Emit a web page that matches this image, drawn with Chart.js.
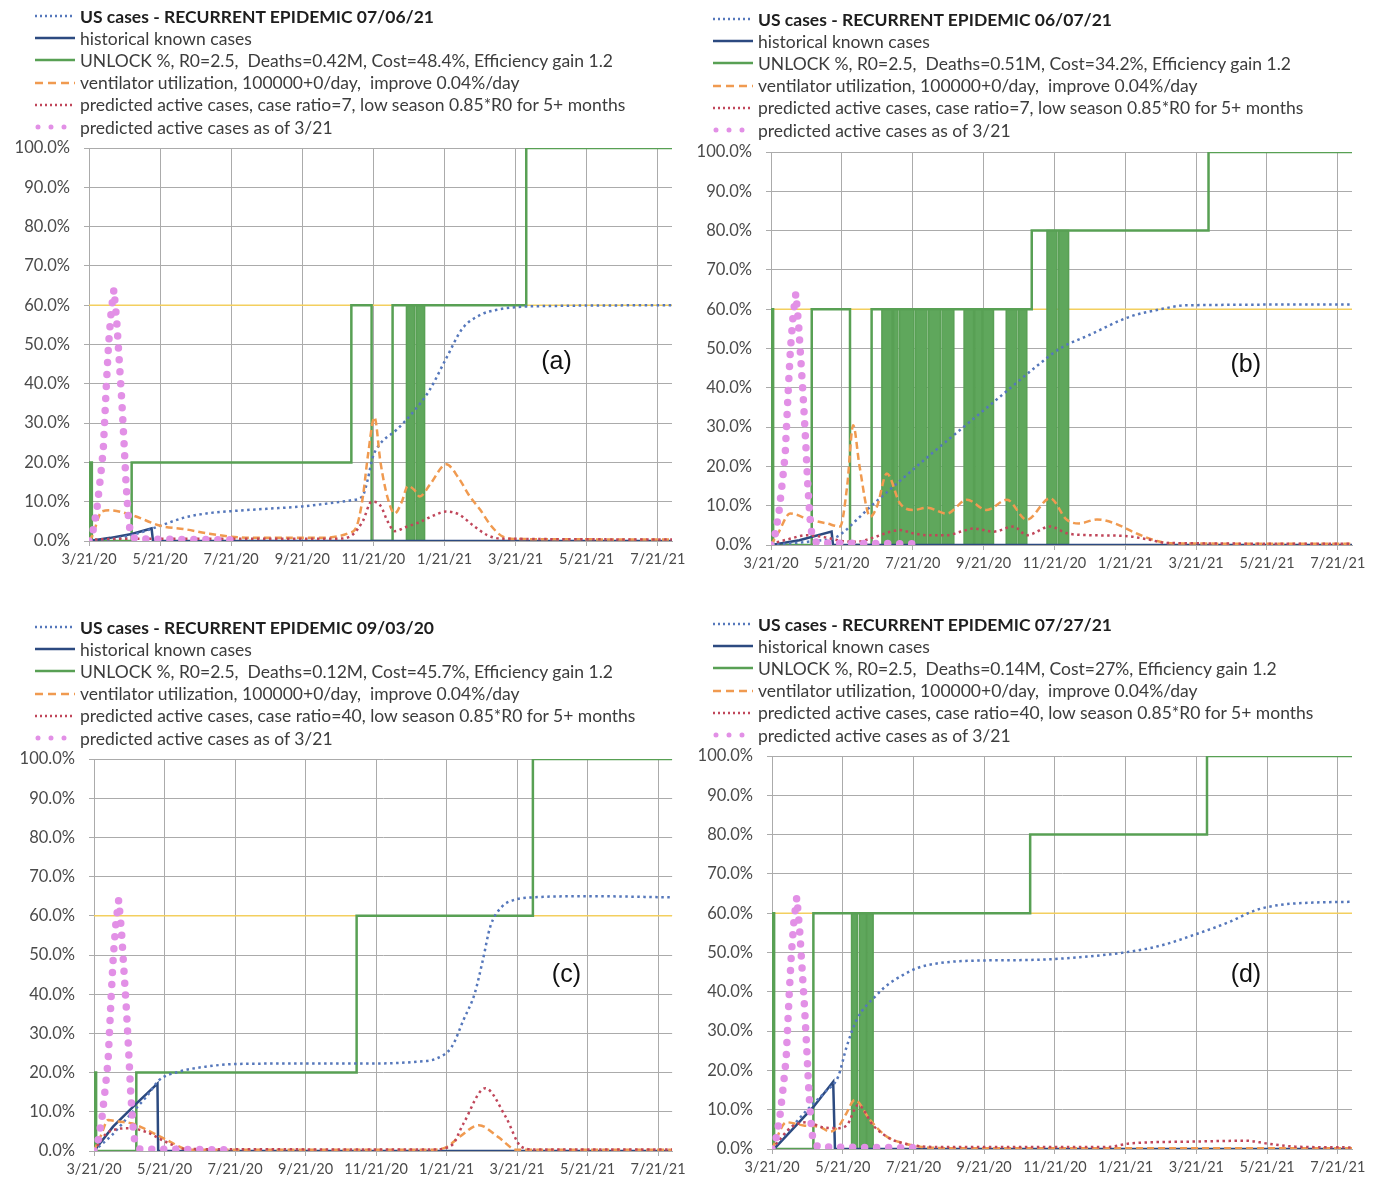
<!DOCTYPE html>
<html>
<head>
<meta charset="utf-8">
<title>US cases - recurrent epidemic</title>
<script src="https://cdn.jsdelivr.net/npm/chart.js@4.4.1/dist/chart.umd.min.js"></script>
<style>
  body { margin: 0; background: #fff; }
  #page { position: relative; width: 1382px; height: 1182px; overflow: hidden; }
  .panel { position: absolute; width: 691px; height: 591px; }
  .panel canvas { position: absolute; left: 0; top: 0; }
  .legend { position: absolute; font-family: Lato, "Noto Sans", sans-serif; font-size: 17.5px; color: #3c3c3c; }
  .legend .row { height: 22.2px; display: flex; align-items: center; white-space: pre; }
  .legend svg { flex: none; margin-right: 4px; }
  .legend .title { font-weight: bold; color: #1e1e1e; }
</style>
</head>
<body>
<div id="page">
  <div class="panel" style="left:0;top:0">
    <canvas id="chartA" width="691" height="591"></canvas>
    <div class="legend" id="legendA" style="left:34px;top:5px"></div>
  </div>
  <div class="panel" style="left:691px;top:0">
    <canvas id="chartB" width="691" height="591"></canvas>
    <div class="legend" id="legendB" style="left:21px;top:8px"></div>
  </div>
  <div class="panel" style="left:0;top:591px">
    <canvas id="chartC" width="691" height="591"></canvas>
    <div class="legend" id="legendC" style="left:34px;top:25px"></div>
  </div>
  <div class="panel" style="left:691px;top:591px">
    <canvas id="chartD" width="691" height="591"></canvas>
    <div class="legend" id="legendD" style="left:21px;top:22px"></div>
  </div>
</div>
<script>
// x values are months since 3/21/20
var xTickMonths = [0, 2, 4, 6, 8, 10, 12, 14, 16];
var xTickLabels = ['3/21/20', '5/21/20', '7/21/20', '9/21/20', '11/21/20', '1/21/21', '3/21/21', '5/21/21', '7/21/21'];
var lastMonth = 16.4;
var refLevel = 60;

var panelTitles = [
    'US cases - RECURRENT EPIDEMIC 07/06/21',
    'US cases - RECURRENT EPIDEMIC 06/07/21',
    'US cases - RECURRENT EPIDEMIC 09/03/20',
    'US cases - RECURRENT EPIDEMIC 07/27/21'
];
var unlockLabels = [
    'UNLOCK %, R0=2.5,  Deaths=0.42M, Cost=48.4%, Efficiency gain 1.2',
    'UNLOCK %, R0=2.5,  Deaths=0.51M, Cost=34.2%, Efficiency gain 1.2',
    'UNLOCK %, R0=2.5,  Deaths=0.12M, Cost=45.7%, Efficiency gain 1.2',
    'UNLOCK %, R0=2.5,  Deaths=0.14M, Cost=27%, Efficiency gain 1.2'
];
var activeLabels = [
    'predicted active cases, case ratio=7, low season 0.85*R0 for 5+ months',
    'predicted active cases, case ratio=7, low season 0.85*R0 for 5+ months',
    'predicted active cases, case ratio=40, low season 0.85*R0 for 5+ months',
    'predicted active cases, case ratio=40, low season 0.85*R0 for 5+ months'
];
var historicalLabel = 'historical known cases';
var ventilatorLabel = 'ventilator utilization, 100000+0/day,  improve 0.04%/day';
var asOf321Label = 'predicted active cases as of 3/21';

// same early forecast in every panel
var asOf321 = [[0, 0], [0.1, 2], [0.22, 8], [0.32, 16], [0.4, 23], [0.49, 40], [0.55, 50], [0.62, 58], [0.7, 64],
    [0.78, 56], [0.85, 46], [0.92, 36], [0.98, 26], [1.04, 15], [1.1, 7], [1.16, 2], [1.3, 0.5], [4, 0.3]];

// (a) 07/06/21
var usCasesA = [[0, 0], [0.6, 0.4], [1.2, 1.5], [1.6, 2.6], [2.04, 4], [2.7, 6], [3.3, 7], [4, 7.6], [5, 8.2], [6, 8.8],
    [6.77, 9.6], [7.4, 10.4], [7.7, 11.5], [7.85, 16], [7.97, 21], [8.17, 24.5], [8.64, 28.2], [9.1, 32.6], [9.58, 38.4],
    [10.05, 46.5], [10.5, 54], [11, 57.5], [11.45, 58.8], [12, 59.5], [13, 59.8], [16.4, 60]];
var historicalA = [[0, 0], [0.6, 0.8], [1.2, 1.8], [1.76, 3.2], [1.8, 0], [16.4, 0]];
var unlockA = [[0, 0], [0.03, 20], [0.08, 0], [1.2, 20], [7.38, 60], [7.95, 0], [8.54, 60], [12.3, 100], [16.4, 100]];
var unlockBandsA = [[8.93, 9.16, 60], [9.21, 9.44, 60]];
var ventilatorA = [[0, 0], [0.1, 1.5], [0.36, 7.5], [0.6, 7.8], [1.2, 6.6], [2.04, 3.8], [2.7, 3], [3.3, 2], [4, 1.1],
    [5, 0.8], [6.5, 0.8], [7, 1.2], [7.3, 2], [7.52, 3.5], [7.7, 11], [7.85, 22], [8.03, 31.5], [8.2, 20], [8.4, 11],
    [8.6, 7], [8.8, 10], [8.97, 14], [9.15, 13], [9.3, 11.3], [9.6, 14.5], [10.05, 19.5], [10.4, 16], [10.7, 11.5],
    [11, 8], [11.3, 4], [11.64, 1.1], [12, 0.5], [16.4, 0.4]];
var activeA = [[0, 0.3], [0.5, 0.5], [2, 0.6], [7, 0.6], [7.4, 1.5], [7.7, 5], [7.95, 10], [8.2, 9], [8.4, 5], [8.6, 2.5],
    [8.9, 3.5], [9.3, 4.8], [9.7, 6.5], [10.05, 7.5], [10.4, 6.8], [10.8, 4], [11.2, 1.5], [11.6, 0.6], [16.4, 0.4]];

// (b) 06/07/21
var usCasesB = [[0, 0], [1.2, 1], [1.86, 2.1], [2.42, 6.4], [2.8, 9.7], [3.6, 16], [4.5, 23], [5.5, 30.5], [6.5, 38],
    [7.5, 45.5], [8.16, 50], [9, 53.5], [10.1, 58], [11, 60], [11.75, 61], [16.4, 61.2]];
var historicalB = [[0, 0], [0.8, 1.2], [1.71, 3.4], [1.75, 0], [16.4, 0]];
var unlockB = [[0, 0], [0.02, 60], [0.06, 0], [1.15, 60], [2.23, 0], [2.84, 60], [7.36, 80], [12.35, 100], [16.4, 100]];
var unlockBandsB = [[3.13, 3.42, 60], [3.46, 3.58, 60], [3.63, 4.03, 60], [4.08, 4.4, 60], [4.45, 4.78, 60],
    [4.83, 5.16, 60], [5.45, 5.72, 60], [5.76, 5.95, 60], [5.98, 6.28, 60], [6.64, 6.94, 60], [6.99, 7.22, 60],
    [7.79, 8.07, 80], [8.12, 8.4, 80]];
var ventilatorB = [[0, 0], [0.2, 3], [0.54, 8], [1.1, 6.4], [1.57, 5.5], [1.95, 4.7], [2.15, 15], [2.32, 30.5], [2.5, 20],
    [2.8, 7.2], [3, 10], [3.27, 18.2], [3.64, 10.6], [4.02, 8.9], [4.4, 9.5], [4.96, 8], [5.53, 11.5], [6.09, 8.9],
    [6.66, 11.5], [7.22, 6.4], [7.88, 11.9], [8.35, 6.4], [8.7, 5.5], [9.2, 6.5], [9.7, 5.5], [10.3, 3], [10.9, 1],
    [11.4, 0.4], [16.4, 0.3]];
var activeB = [[0, 0.3], [0.5, 1.5], [1, 2.5], [1.5, 2], [2, 1], [2.4, 0.8], [2.83, 1.7], [3.3, 3.2], [3.64, 3.8], [4, 3],
    [4.4, 2.5], [4.96, 2.5], [5.4, 3.5], [5.72, 4.2], [6.28, 3.4], [6.85, 4.7], [7.22, 2.5], [7.88, 4.7], [8.35, 3],
    [9, 2.5], [10, 2.3], [10.6, 1.5], [11.2, 0.5], [16.4, 0.3]];

// (c) 09/03/20
var usCasesC = [[0, 0], [0.5, 4], [1, 9], [1.5, 14], [1.85, 18.1], [2.4, 20.2], [3.16, 21.5], [4.04, 22.2], [5.35, 22.3],
    [7.53, 22.3], [9.17, 22.8], [9.72, 23.6], [10.15, 26.6], [10.48, 33.4], [10.8, 40.2], [11.03, 48.7], [11.24, 57.2],
    [11.57, 62.3], [11.9, 64], [12.45, 64.7], [14.08, 65], [16.4, 64.7]];
var historicalC = [[0, 0], [0.54, 6.2], [1.2, 12.1], [1.8, 17.2], [1.82, 0], [16.4, 0]];
var unlockC = [[0, 0], [0.02, 20], [0.06, 0], [1.2, 20], [7.45, 60], [12.45, 100], [16.4, 100]];
var unlockBandsC = [];
var ventilatorC = [[0, 0], [0.2, 4], [0.4, 7.9], [0.7, 7.5], [1.09, 7], [1.52, 5.3], [2.07, 2.8], [2.72, 0.3], [9.6, 0.3],
    [10, 1], [10.37, 3.6], [10.92, 6.6], [11.46, 3.6], [12, 0.3], [16.4, 0.3]];
var activeC = [[0, 0], [0.3, 4], [0.6, 5.5], [1, 5.8], [1.5, 4.8], [2, 2.5], [2.6, 0.5], [9.6, 0.4], [10.15, 1.5],
    [10.48, 7], [11.1, 16], [11.68, 8.7], [12.12, 1.1], [12.5, 0.4], [16.4, 0.4]];

// (d) 07/27/21
var usCasesD = [[0, 0], [0.5, 5], [1, 10], [1.5, 14.5], [1.87, 18.4], [2.11, 26], [2.39, 32.8], [2.96, 39.2], [3.33, 42.2],
    [3.71, 44.3], [4.09, 46], [4.66, 47.2], [5.6, 47.9], [7.29, 48.1], [8.7, 48.8], [10.11, 50.2], [11.05, 51.9],
    [12, 54.7], [12.94, 57.8], [13.69, 60.8], [14.35, 62.1], [15.3, 62.7], [16.4, 62.9]];
var historicalD = [[0, 0], [0.1, 0.4], [1.17, 10.7], [1.73, 17.1], [1.78, 0], [16.4, 0]];
var unlockD = [[0, 0], [0.02, 60], [0.06, 0], [1.17, 60], [7.3, 80], [12.3, 100], [16.4, 100]];
var unlockBandsD = [[2.25, 2.41, 60], [2.47, 2.67, 60], [2.69, 2.86, 60]];
var ventilatorD = [[0, 0], [0.41, 6.8], [0.89, 6], [1.36, 5.6], [1.64, 4.4], [1.9, 6], [2.1, 9], [2.34, 12.5], [2.77, 7.4],
    [3.24, 3.2], [3.71, 1.5], [4.18, 0.6], [5.1, 0.2], [16.4, 0.2]];
var activeD = [[0, 0], [0.54, 5.5], [1, 6.8], [1.4, 5.6], [1.83, 5.3], [2.11, 6], [2.44, 11.2], [2.86, 6], [3.33, 2.7],
    [3.9, 1.1], [4.66, 0.5], [9.5, 0.5], [10.11, 1.4], [12, 1.9], [13.4, 2.1], [14, 1.4], [14.8, 0.6], [16.4, 0.4]];

var gridColor = '#ababab';
var tickColor = '#4a4a4a';

var styles = {
    usCases: { color: '#5577bb', width: 2.5, dash: [2.5, 3.5], legendDash: '2 3' },
    historical: { color: '#2c4a80', width: 2.5, dash: [], legendDash: '' },
    unlock: { color: '#58a054', width: 2.5, dash: [], legendDash: '' },
    ventilator: { color: '#f09a50', width: 2.5, dash: [7, 4], legendDash: '8 5' },
    active: { color: '#c0465a', width: 2.5, dash: [2.5, 3.5], legendDash: '2 3' },
    asOf321: { color: '#e290e6', width: 7.5, dash: [0, 12], cap: 'round', legendWidth: 5, legendDash: '0 13' }
};
var legendOrder = ['usCases', 'historical', 'unlock', 'ventilator', 'active', 'asOf321'];

var panels = [
    { canvas: 'chartA', legend: 'legendA', area: { left: 89, right: 19, top: 148, axisH: 50 },
      tag: { text: '(a)', x: 13.15, y: 45.5 },
      usCases: usCasesA, historical: historicalA, unlock: unlockA, bands: unlockBandsA,
      ventilator: ventilatorA, active: activeA },
    { canvas: 'chartB', legend: 'legendB', area: { left: 80, right: 30, top: 152, axisH: 46 },
      tag: { text: '(b)', x: 13.4, y: 45.8 },
      usCases: usCasesB, historical: historicalB, unlock: unlockB, bands: unlockBandsB,
      ventilator: ventilatorB, active: activeB },
    { canvas: 'chartC', legend: 'legendC', area: { left: 94, right: 16, top: 168, axisH: 31 },
      tag: { text: '(c)', x: 13.4, y: 44.9 },
      usCases: usCasesC, historical: historicalC, unlock: unlockC, bands: unlockBandsC,
      ventilator: ventilatorC, active: activeC },
    { canvas: 'chartD', legend: 'legendD', area: { left: 81, right: 30, top: 165, axisH: 33 },
      tag: { text: '(d)', x: 13.4, y: 44.3 },
      usCases: usCasesD, historical: historicalD, unlock: unlockD, bands: unlockBandsD,
      ventilator: ventilatorD, active: activeD }
];

function toPoints(pairs) {
    return pairs.map(function (p) { return { x: p[0], y: p[1] }; });
}

function lineSet(pairs, st, smooth) {
    return {
        data: toPoints(pairs),
        borderColor: st.color,
        borderWidth: st.width,
        borderDash: st.dash,
        borderCapStyle: st.cap || 'butt',
        pointRadius: 0,
        fill: false,
        cubicInterpolationMode: smooth ? 'monotone' : 'default'
    };
}

// solid blocks where the unlock level flips every day
function bandSet(bands) {
    var pts = [];
    bands.forEach(function (b) {
        pts.push({ x: b[0], y: 0 }, { x: b[0], y: b[2] }, { x: b[1], y: b[2] }, { x: b[1], y: 0 }, { x: b[1], y: null });
    });
    return {
        data: pts,
        borderColor: styles.unlock.color,
        backgroundColor: '#5fa75c',
        borderWidth: 1.5,
        pointRadius: 0,
        fill: 'origin',
        spanGaps: false
    };
}

var panelTagPlugin = {
    id: 'panelTag',
    afterDatasetsDraw: function (chart, args, opts) {
        var ctx = chart.ctx;
        ctx.save();
        ctx.font = '25px "Liberation Sans", Arial, sans-serif';
        ctx.fillStyle = '#111';
        ctx.textAlign = 'center';
        ctx.textBaseline = 'middle';
        ctx.fillText(opts.text, chart.scales.x.getPixelForValue(opts.x), chart.scales.y.getPixelForValue(opts.y));
        ctx.restore();
    }
};

function buildLegend(id, texts) {
    var el = document.getElementById(id);
    legendOrder.forEach(function (key, i) {
        var st = styles[key];
        var row = document.createElement('div');
        row.className = 'row';
        row.innerHTML = '<svg width="42" height="12"><line x1="' + (st.cap ? 4 : 1) + '" y1="6" x2="41" y2="6" stroke="' +
            st.color + '" stroke-width="' + (st.legendWidth || st.width) + '" stroke-dasharray="' + st.legendDash +
            '" stroke-linecap="' + (st.cap || 'butt') + '"/></svg>';
        var span = document.createElement('span');
        span.textContent = texts[i];
        if (i === 0) span.className = 'title';
        row.appendChild(span);
        el.appendChild(row);
    });
}

function makeChart(p) {
    var ctx = document.getElementById(p.canvas).getContext('2d');
    return new Chart(ctx, {
        type: 'line',
        data: {
            datasets: [
                lineSet(asOf321, styles.asOf321, false),
                lineSet(p.active, styles.active, true),
                lineSet(p.ventilator, styles.ventilator, true),
                lineSet(p.usCases, styles.usCases, true),
                lineSet(p.historical, styles.historical, false),
                Object.assign(lineSet(p.unlock, styles.unlock, false), { stepped: 'before' }),
                bandSet(p.bands),
                lineSet([[0, refLevel], [lastMonth, refLevel]], { color: '#f3cf5f', width: 1.5, dash: [] }, false)
            ]
        },
        options: {
            responsive: false,
            animation: false,
            layout: { padding: { top: p.area.top, right: p.area.right, left: 0, bottom: 0 } },
            plugins: {
                legend: { display: false },
                tooltip: { enabled: false },
                panelTag: p.tag
            },
            scales: {
                x: {
                    type: 'linear',
                    min: 0,
                    max: lastMonth,
                    afterBuildTicks: function (scale) {
                        scale.ticks = xTickMonths.map(function (v) { return { value: v }; });
                    },
                    afterFit: function (scale) { scale.height = p.area.axisH; },
                    grid: { color: gridColor, tickLength: 5 },
                    border: { color: gridColor },
                    ticks: {
                        autoSkip: false,
                        maxRotation: 0,
                        padding: 5,
                        color: tickColor,
                        font: { family: 'Lato', size: 14.5 },
                        callback: function (v) { return xTickLabels[xTickMonths.indexOf(v)]; }
                    }
                },
                y: {
                    min: 0,
                    max: 100,
                    afterFit: function (scale) { scale.width = p.area.left; },
                    grid: { color: gridColor, tickLength: 5 },
                    border: { color: gridColor },
                    ticks: {
                        stepSize: 10,
                        padding: 14,
                        color: tickColor,
                        font: { family: 'Lato', size: 16.5 },
                        callback: function (v) { return v.toFixed(1) + '%'; }
                    }
                }
            }
        },
        plugins: [panelTagPlugin]
    });
}

window.addEventListener('load', function () {
    panels.forEach(function (p, i) {
        buildLegend(p.legend, [panelTitles[i], historicalLabel, unlockLabels[i], ventilatorLabel, activeLabels[i], asOf321Label]);
        makeChart(p);
    });
});
</script>
</body>
</html>
